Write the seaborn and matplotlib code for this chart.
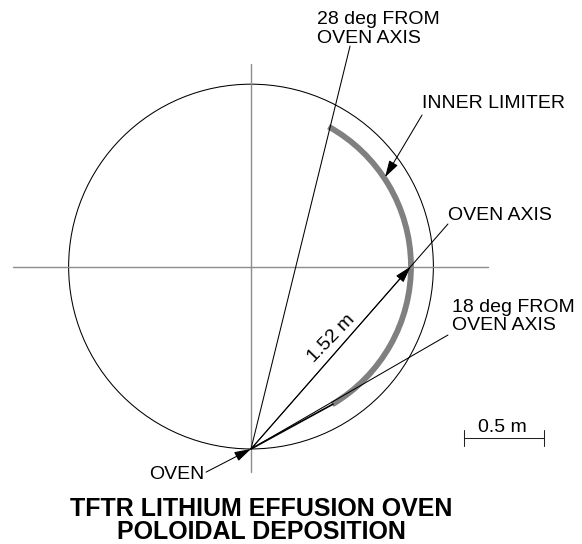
import numpy as np
import pandas as pd
import seaborn as sns
from matplotlib import pyplot as plt
from matplotlib.patches import Arc, Circle

# everything is in metres, origin on the torus centre
vessel_radius = 1.14
limiter_radius = 1.0
limiter_start_deg = -59.5
limiter_end_deg = 61.0
oven_pos = (0.0, -1.14)

cross_h = ([-1.49, 1.48], [0.0, 0.0])
cross_v = ([0.0, 0.0], [1.265, -1.285])

ray_names = ["28 deg", "oven axis", "18 deg"]
ray_end_x = [0.619, 1.231, 1.231]
ray_end_y = [1.378, 0.266, -0.428]

# 18 deg ray is drawn heavier up to the limiter end
heavy_end = (0.5125, -0.86)

arrow_tips = [(0.0, -1.14), (0.998, 0.0), (0.838, 0.559)]
arrow_tails = [(-0.281, -1.285), (0.0, -1.14), (1.069, 0.947)]

scale_x = [1.331, 1.831]
scale_y = -1.072
scale_tick = 0.05

sns.set_theme(style="white")
plt.rcParams["font.family"] = ["Liberation Sans", "DejaVu Sans"]

fig = plt.figure(figsize=(5.82, 5.44), dpi=100)
ax = fig.add_axes([0, 0, 1, 1])

# cross hairs
for xs, ys in [cross_h, cross_v]:
    sns.lineplot(x=xs, y=ys, sort=False, estimator=None, color="#8c8c8c", linewidth=1.0, ax=ax)

ax.add_patch(Circle((0, 0), vessel_radius, fill=False, edgecolor="black", linewidth=0.75))
ax.add_patch(Arc((0, 0), 2 * limiter_radius, 2 * limiter_radius, theta1=limiter_start_deg,
                 theta2=limiter_end_deg, edgecolor="#808080", linewidth=4.2))

# rays out of the oven
rays = pd.DataFrame({"ray": np.repeat(ray_names, 2),
                     "x": np.ravel([[oven_pos[0], x] for x in ray_end_x]),
                     "y": np.ravel([[oven_pos[1], y] for y in ray_end_y])})
sns.lineplot(data=rays, x="x", y="y", units="ray", sort=False, estimator=None,
             color="black", linewidth=0.75, ax=ax)
sns.lineplot(x=[oven_pos[0], heavy_end[0]], y=[oven_pos[1], heavy_end[1]], sort=False, estimator=None,
             color="black", linewidth=1.2, ax=ax)

for tip, tail in zip(arrow_tips, arrow_tails):
    ax.annotate("", xy=tip, xytext=tail,
                arrowprops=dict(arrowstyle="-|>,head_length=0.85,head_width=0.25", color="black",
                                linewidth=0.75, shrinkA=0, shrinkB=0, mutation_scale=12))

# scale bar
sns.lineplot(x=scale_x, y=[scale_y, scale_y], sort=False, estimator=None, color="#222222", linewidth=0.75, ax=ax)
for sx in scale_x:
    sns.lineplot(x=[sx, sx], y=[scale_y - scale_tick, scale_y + scale_tick], sort=False, estimator=None,
                 color="#222222", linewidth=0.75, ax=ax)

fs = 14.0
ax.text(0.4125, 1.485, "28 deg FROM\nOVEN AXIS", fontsize=fs, va="center", ha="left", linespacing=1.08, color="black")
ax.text(1.069, 1.022, "INNER LIMITER", fontsize=fs, va="center", ha="left", color="black")
ax.text(1.231, 0.322, "OVEN AXIS", fontsize=fs, va="center", ha="left", color="black")
ax.text(1.256, -0.3125, "18 deg FROM\nOVEN AXIS", fontsize=fs, va="center", ha="left", linespacing=1.08, color="black")
ax.text(1.57, -1.003, "0.5 m", fontsize=fs, va="center", ha="center", color="black")
ax.text(-0.6375, -1.297, "OVEN", fontsize=fs, va="center", ha="left", color="black")
ax.text(0.506, -0.447, "1.52 m", fontsize=fs, rotation=46, va="center", ha="center", color="black",
        rotation_mode="anchor")
ax.text(0.066, -1.585, "TFTR LITHIUM EFFUSION OVEN\nPOLOIDAL DEPOSITION", fontsize=18.0, fontweight="bold",
        va="center", ha="center", linespacing=0.95, color="black")

ax.set_xlim(-1.569, 2.069)
ax.set_ylim(-1.734, 1.666)
ax.set_aspect("equal")
ax.axis("off")

fig.savefig("out.png", dpi=100)
